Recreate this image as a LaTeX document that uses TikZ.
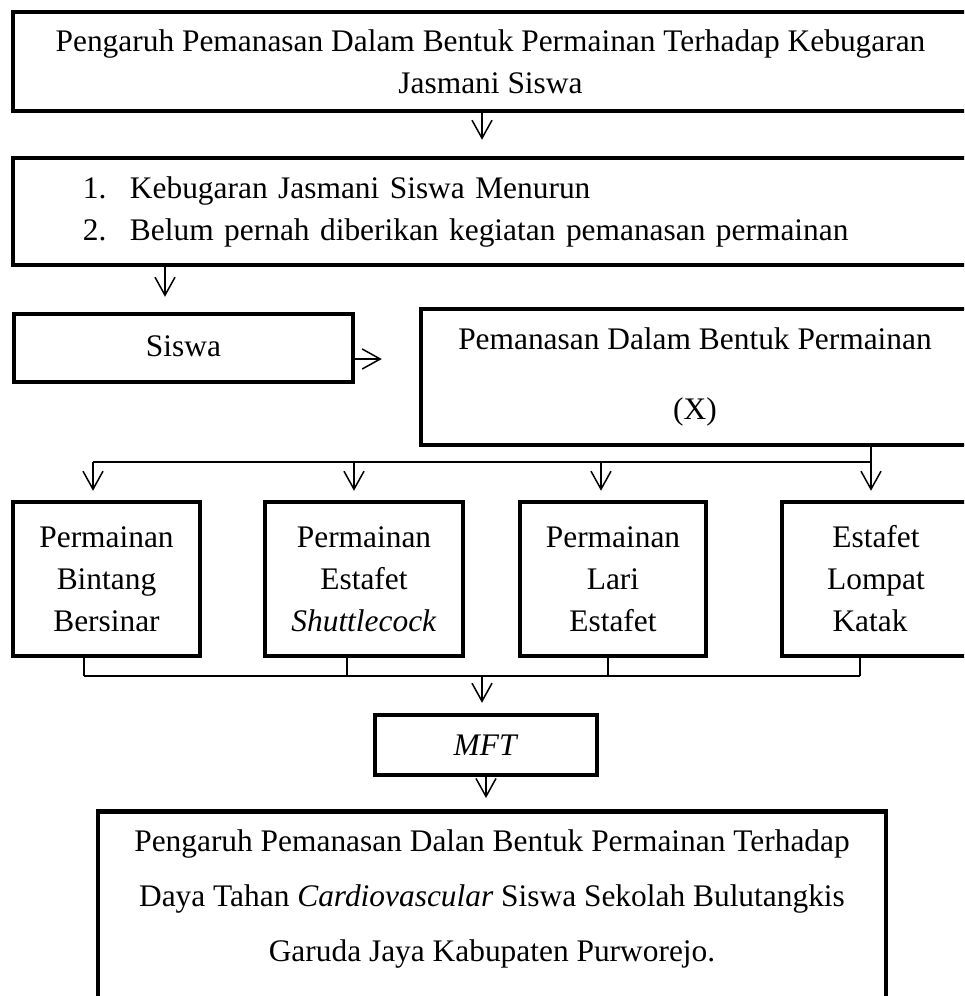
\documentclass[tikz,border=0pt]{standalone}
\usepackage{fontspec}
\setmainfont{Liberation Serif}
\usetikzlibrary{arrows.meta}

\begin{document}
\begin{tikzpicture}[
        x=0.5pt,y=-0.5pt,
        every node/.style={font=\fontsize{15.7}{21}\selectfont},
        boxnode/.style={draw,line width=2.25pt,inner sep=0pt,align=center},
        wire/.style={line width=0.75pt},
        arrowline/.style={wire,-{Straight Barb[length=9pt,width=10pt]}}
      ]
      \path[use as bounding box] (0,0) rectangle (964,996);
      \clip (0,0) rectangle (964,996);

      \node[boxnode,minimum width=477.5pt,minimum height=49.5pt] (judul) at (490.5,61.5)
        {Pengaruh Pemanasan Dalam Bentuk Permainan Terhadap Kebugaran\\Jasmani Siswa};
      \node[boxnode,minimum width=477.5pt,minimum height=53.5pt,text width=407.5pt,align=left] (masalah) at (490.5,211.5)
        {\makebox[23.5pt][l]{1.}Kebugaran Jasmani Siswa Menurun\\\makebox[23.5pt][l]{2.}Belum pernah diberikan kegiatan pemanasan permainan};
      \node[boxnode,minimum width=169.5pt,minimum height=34pt] (siswa) at (183.5,348) {\raisebox{2pt}{Siswa}};
      \node[boxnode,minimum width=274pt,minimum height=68pt] (pemanasan) at (695,377)
        {Pemanasan Dalam Bentuk Permainan\\[14pt](X)};

      \node[boxnode,minimum width=93.5pt,minimum height=77pt] (bintang) at (106.5,579) {Permainan\\Bintang\\Bersinar};
      \node[boxnode,minimum width=99pt,minimum height=77pt] (shuttle) at (364,579) {Permainan\\Estafet\\\textit{Shuttlecock}};
      \node[boxnode,minimum width=93pt,minimum height=77pt] (lari) at (613,579) {Permainan\\Lari\\Estafet};
      \node[boxnode,minimum width=94pt,minimum height=77pt] (katak) at (876,579) {Estafet\\Lompat\\Katak\hspace*{6pt}};

      \node[boxnode,minimum width=111pt,minimum height=30pt] (mft) at (486,745) {\textit{MFT}};
      \node[boxnode,anchor=north,minimum width=394pt,inner ysep=9pt] (hasil) at (492,809)
        {Pengaruh Pemanasan Dalan Bentuk Permainan Terhadap\\[6.5pt]
         Daya Tahan \textit{Cardiovascular} Siswa Sekolah Bulutangkis\\[6.5pt]
         Garuda Jaya Kabupaten Purworejo.\\[6.5pt]\mbox{}};

      % alur atas
      \draw[arrowline,shorten >=8pt] ([xshift=-4.25pt]judul.south) -- ([xshift=-4.25pt]masalah.north);
      \draw[arrowline,shorten >=7.5pt] (masalah.south -| 165,0) -- (siswa.north -| 165,0);
      \coordinate (sw) at ([yshift=-5.5pt]siswa.east);
      \draw[arrowline,shorten >=18.5pt] (sw) -- (sw -| pemanasan.west);

      % cabang ke empat permainan
      \coordinate (cabang) at (871,462);
      \draw[wire] (pemanasan.south -| cabang) -- (cabang) -- (93,462);
      \foreach \n/\x in {bintang/93,shuttle/354,lari/601,katak/871}
        \draw[arrowline,shorten >=4.5pt] (\x,462) -- (\n.north -| \x,0);

      % gabung ke MFT
      \coordinate (gabung) at (482,676);
      \foreach \n/\x in {bintang/84,shuttle/347,lari/608,katak/860}
        \draw[wire] (\n.south -| \x,0) -- (\x,676);
      \draw[wire] (84,676) -- (860,676);
      \draw[arrowline,shorten >=5pt] (gabung) -- (mft.north -| gabung);
      \draw[arrowline,shorten >=5.5pt] (mft.south) -- (hasil.north -| mft.south);
    \end{tikzpicture}
\end{document}
